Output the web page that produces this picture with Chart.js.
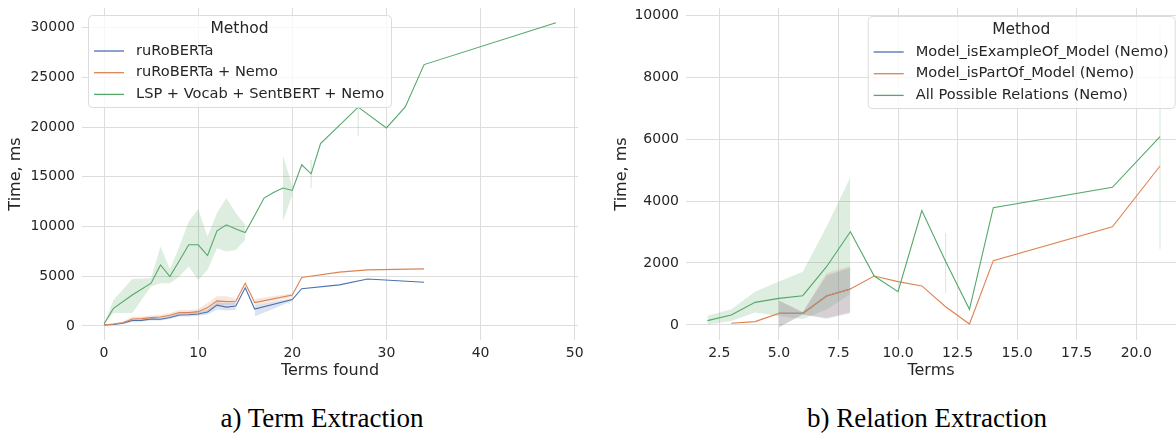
<!DOCTYPE html>
<html>
<head>
<meta charset="utf-8">
<script src="https://cdn.jsdelivr.net/npm/chart.js@4.4.0/dist/chart.umd.min.js"></script>
<style>
  body { margin: 0; background: #fff; width: 1176px; height: 435px; position: relative; overflow: hidden; }
  .panel { position: absolute; top: 0; height: 385px; }
  .caption { position: absolute; top: 403px; font-family: 'Liberation Serif', 'Times New Roman', serif; font-size: 27px; line-height: 30px; color: #000; text-align: center; }
</style>
</head>
<body>
<div class="panel" style="left:0;width:590px"><canvas id="termChart" width="590" height="385"></canvas></div>
<div class="panel" style="left:590px;width:586px"><canvas id="relationChart" width="586" height="385"></canvas></div>
<div class="caption" style="left:0;width:644px">a) Term Extraction</div>
<div class="caption" style="left:678px;width:498px">b) Relation Extraction</div>
<script>
// a) Term Extraction
const termMethods = ['ruRoBERTa', 'ruRoBERTa + Nemo', 'LSP + Vocab + SentBERT + Nemo'];
const termXTicks = [0, 10, 20, 30, 40, 50];
const termYTicks = [0, 5000, 10000, 15000, 20000, 25000, 30000];
const termX = [0, 1, 2, 3, 4, 5, 6, 7, 8, 9, 10, 11, 12, 13, 14, 15, 16, 20, 21, 25, 28, 34];
const termRuRoberta     = [100, 150, 280, 550, 560, 700, 680, 850, 1100, 1130, 1200, 1400, 2100, 1900, 2000, 3850, 1700, 2650, 3750, 4130, 4730, 4400];
const termRuRobertaLo   = [100, 100, 200, 400, 450, 550, 550, 700, 950, 950, 1000, 1150, 1650, 1550, 1600, null, 950, 2500, null, null, null, null];
const termRuRobertaHi   = [100, 200, 350, 650, 650, 800, 800, 1000, 1250, 1300, 1400, 1650, 2400, 2300, 2400, null, 2100, 2800, null, null, null, null];
const termNemo          = [100, 200, 330, 700, 740, 840, 900, 1070, 1340, 1340, 1440, 1850, 2520, 2450, 2480, 4300, 2350, 3120, 4870, 5410, 5640, 5740];
const termNemoLo        = [100, 150, 250, 550, 600, 700, 750, 900, 1150, 1150, 1200, 1500, 2100, 2100, 2150, null, 2100, 2900, null, null, null, null];
const termNemoHi        = [100, 300, 450, 950, 950, 1050, 1100, 1300, 1600, 1600, 1700, 2300, 3000, 3000, 2750, null, 2700, 3300, null, null, null, null];
const termLspX  = [0, 1, 3, 5, 6, 7, 8, 9, 10, 11, 12, 13, 14, 15, 16, 17, 18, 19, 20, 21, 22, 23, 27, 30, 32, 34, 48];
const termLsp   = [200, 1780, 3120, 4300, 6140, 4970, 6550, 8160, 8160, 7080, 9570, 10170, 9740, 9400, 11100, 12860, 13420, 13870, 13630, 16210, 15300, 18330, 22000, 19910, 22020, 26280, 30480];
const termLspLo = [200, 1300, 1300, 3960, 4300, 4300, 4970, 5970, 4630, 5640, 7820, 7480, 7650, 8660, null, null, null, 10500, 13200, null, null, null, null, null, null, null, null];
const termLspHi = [200, 2620, 4730, 4800, 7990, 5710, 7990, 10500, 11750, 9000, 11350, 12860, 11350, 10170, null, null, null, 17200, 14000, null, null, null, null, null, null, null, null];
const termLspCiX  = [22, 27];
const termLspCiLo = [13900, 19100];
const termLspCiHi = [16700, 24800];

// b) Relation Extraction
const relMethods = ['Model_isExampleOf_Model (Nemo)', 'Model_isPartOf_Model (Nemo)', 'All Possible Relations (Nemo)'];
const relXTicks = [2.5, 5, 7.5, 10, 12.5, 15, 17.5, 20];
const relYTicks = [0, 2000, 4000, 6000, 8000, 10000];
const relExampleOfX = [5, 6, 7, 8];
const relExampleOf  = [375, 375, 935, 1160];
const relExampleOfLo = [-80, 340, 200, 380];
const relExampleOfHi = [780, 410, 1600, 1850];
const relX = [3, 4, 5, 6, 7, 8, 9, 10, 11, 12, 13, 14, 19, 21];
const relPartOf    = [55, 110, 375, 375, 935, 1160, 1580, 1400, 1260, 590, 30, 2075, 3170, 5130];
const relPartOfBandX = [5, 6, 7, 8];
const relPartOfLo    = [-60, 330, 230, 420];
const relPartOfHi    = [800, 420, 1680, 1900];
const relAllX  = [2, 3, 4, 5, 6, 7, 8, 9, 10, 11, 12, 13, 14, 19, 21];
const relAll   = [140, 320, 730, 860, 945, 1880, 3010, 1580, 1075, 3690, 2050, 505, 3785, 4440, 6075];
const relAllBandX = [2, 3, 4, 5, 6, 7, 8];
const relAllLo = [20, 130, 400, 290, 190, 500, 1000];
const relAllHi = [300, 505, 1075, 1400, 1720, 3170, 4765];
const relAllCiX  = [12, 21];
const relAllCiLo = [1040, 2450];
const relAllCiHi = [2970, 9700];

const BLUE = '#4c72b0', ORANGE = '#dd8452', GREEN = '#55a868';
const BLUE_FILL = 'rgba(76,114,176,0.2)', ORANGE_FILL = 'rgba(221,132,82,0.2)', GREEN_FILL = 'rgba(85,168,104,0.2)';
const TEXT = '#262626';

Chart.defaults.font.family = "'DejaVu Sans', sans-serif";
Chart.defaults.color = TEXT;

function pts(xs, ys) {
    return xs.map((x, i) => ({x: x, y: ys[i]}));
}

function series(label, xs, ys, color, order) {
    return {label: label, data: pts(xs, ys), borderColor: color, borderWidth: 1.1,
            pointRadius: 0, fill: false, inLegend: true, order: order, spanGaps: true};
}

// upper edge fills down to the lower edge (next dataset)
function band(xs, lo, hi, fillColor) {
    return [
        {data: pts(xs, hi), borderColor: 'transparent', borderWidth: 0, pointRadius: 0,
         backgroundColor: fillColor, fill: '+1', order: 10, spanGaps: false},
        {data: pts(xs, lo), borderColor: 'transparent', borderWidth: 0, pointRadius: 0,
         fill: false, order: 10, spanGaps: false}
    ];
}

// confidence interval at a lone x value: just a thin vertical stroke
function ciLines(xs, lo, hi, color) {
    return xs.map((x, i) => ({data: [{x: x, y: lo[i]}, {x: x, y: hi[i]}], borderColor: color,
                              borderWidth: 1, pointRadius: 0, fill: false, order: 10}));
}

const boxLegend = {
    id: 'boxLegend',
    afterDraw(chart, args, o) {
        const ctx = chart.ctx;
        const items = chart.data.datasets.filter(d => d.inLegend);
        const x = o.x + 0.5, y = o.y + 0.5, w = o.w, h = o.h, r = 4;
        ctx.save();
        ctx.beginPath();
        ctx.moveTo(x + r, y);
        ctx.arcTo(x + w, y, x + w, y + h, r);
        ctx.arcTo(x + w, y + h, x, y + h, r);
        ctx.arcTo(x, y + h, x, y, r);
        ctx.arcTo(x, y, x + w, y, r);
        ctx.closePath();
        ctx.fillStyle = 'rgba(255,255,255,0.8)';
        ctx.fill();
        ctx.strokeStyle = '#dcdcdc';
        ctx.lineWidth = 1;
        ctx.stroke();
        ctx.fillStyle = TEXT;
        ctx.textBaseline = 'middle';
        ctx.textAlign = 'center';
        ctx.font = "15.5px 'DejaVu Sans'";
        ctx.fillText(o.title, o.x + w / 2, o.y + 14);
        ctx.textAlign = 'left';
        ctx.font = "14.6px 'DejaVu Sans'";
        items.forEach((d, i) => {
            const ly = o.y + 36 + i * 21.7;
            ctx.strokeStyle = d.borderColor;
            ctx.lineWidth = 1.3;
            ctx.beginPath();
            ctx.moveTo(o.x + 6, ly);
            ctx.lineTo(o.x + 36, ly);
            ctx.stroke();
            ctx.fillText(d.label, o.x + 48, ly);
        });
        ctx.restore();
    }
};

function makeScales(cfg) {
    return {
        x: {
            type: 'linear', min: cfg.xMin, max: cfg.xMax,
            grid: {color: '#dddddd', lineWidth: 1, drawTicks: false},
            border: {display: false},
            afterBuildTicks: s => { s.ticks = cfg.xTicks.map(v => ({value: v})); },
            ticks: {padding: 5, font: {size: 14}, callback: cfg.xFormat},
            title: {display: true, text: cfg.xTitle, font: {size: 16}, padding: {top: 0, bottom: 4.5}},
            afterFit: s => { s.height = 45; }
        },
        y: {
            type: 'linear', min: cfg.yMin, max: cfg.yMax,
            grid: {color: '#dddddd', lineWidth: 1, drawTicks: false},
            border: {display: false},
            afterBuildTicks: s => { s.ticks = cfg.yTicks.map(v => ({value: v})); },
            ticks: {padding: 7, font: {size: 14}, callback: v => String(v)},
            title: {display: true, text: 'Time, ms', font: {size: 16}, padding: {top: cfg.yTitlePad, bottom: 0}},
            // fixed axis width; tick labels are well inside the range, so no edge padding
            afterFit: s => { s.width = cfg.yWidth; s.paddingTop = 0; s.paddingBottom = 0; }
        }
    };
}

new Chart(document.getElementById('termChart'), {
    type: 'line',
    data: {
        datasets: [
            series(termMethods[0], termX, termRuRoberta, BLUE, 3),
            series(termMethods[1], termX, termNemo, ORANGE, 2),
            series(termMethods[2], termLspX, termLsp, GREEN, 1),
            ...band(termX, termRuRobertaLo, termRuRobertaHi, BLUE_FILL),
            ...band(termX, termNemoLo, termNemoHi, ORANGE_FILL),
            ...band(termLspX, termLspLo, termLspHi, GREEN_FILL),
            ...ciLines(termLspCiX, termLspCiLo, termLspCiHi, 'rgba(85,168,104,0.25)')
        ]
    },
    options: {
        responsive: false,
        animation: false,
        layout: {padding: {left: 0, right: 12, top: 8, bottom: 0}},
        scales: makeScales({xMin: -2.34, xMax: 50.35, xTicks: termXTicks, xFormat: v => String(v), xTitle: 'Terms found',
                            yMin: -1410, yMax: 31970, yTicks: termYTicks, yWidth: 82, yTitlePad: 6.5}),
        plugins: {
            legend: {display: false},
            tooltip: {enabled: false},
            boxLegend: {title: 'Method', x: 88, y: 15, w: 303, h: 92}
        }
    },
    plugins: [boxLegend]
});

new Chart(document.getElementById('relationChart'), {
    type: 'line',
    data: {
        datasets: [
            series(relMethods[0], relExampleOfX, relExampleOf, BLUE, 3),
            series(relMethods[1], relX, relPartOf, ORANGE, 2),
            series(relMethods[2], relAllX, relAll, GREEN, 1),
            ...band(relExampleOfX, relExampleOfLo, relExampleOfHi, BLUE_FILL),
            ...band(relPartOfBandX, relPartOfLo, relPartOfHi, ORANGE_FILL),
            ...band(relAllBandX, relAllLo, relAllHi, GREEN_FILL),
            ...ciLines(relAllCiX, relAllCiLo, relAllCiHi, 'rgba(85,168,104,0.25)')
        ]
    },
    options: {
        responsive: false,
        animation: false,
        layout: {padding: {left: 0, right: 0, top: 8, bottom: 0}},
        scales: makeScales({xMin: 1.1, xMax: 21.67, xTicks: relXTicks, xFormat: v => v.toFixed(1), xTitle: 'Terms',
                            yMin: -484, yMax: 10226, yTicks: relYTicks, yWidth: 96, yTitlePad: 22}),
        plugins: {
            legend: {display: false},
            tooltip: {enabled: false},
            boxLegend: {title: 'Method', x: 277.7, y: 16, w: 307, h: 92}
        }
    },
    plugins: [boxLegend]
});
</script>
</body>
</html>
